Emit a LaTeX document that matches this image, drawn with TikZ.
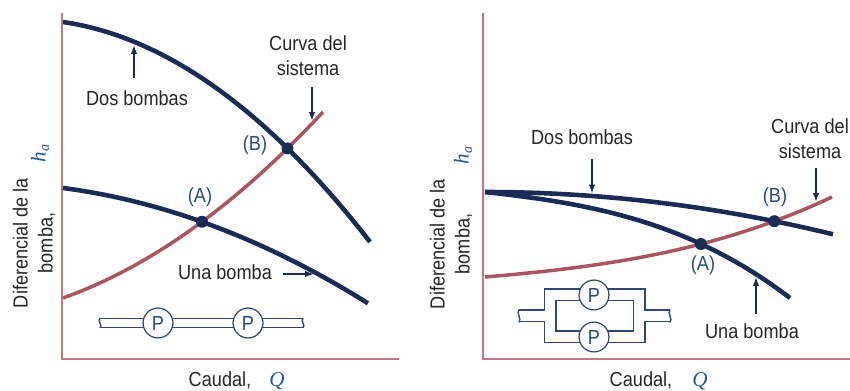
\documentclass[tikz,border=0pt]{standalone}
\usepackage{fontspec}
\setmainfont{Liberation Sans}[FakeStretch=0.89]
\newfontfamily\serifit{Liberation Serif}
\usetikzlibrary{arrows.meta}
\definecolor{navy}{RGB}{26,44,86}
\definecolor{pipeblue}{RGB}{48,70,118}
\definecolor{sysred}{RGB}{170,86,98}
\definecolor{axisred}{RGB}{194,118,130}
\definecolor{lblblue}{RGB}{42,74,128}
\definecolor{varblue}{RGB}{40,84,160}
\tikzset{
	pumpcurve/.style={line width=2.6pt, color=navy},
	syscurve/.style={line width=2pt, color=sysred},
	axisline/.style={line width=1.1pt, color=axisred},
	lbl/.style={inner sep=1pt, text=black!85},
	ptlbl/.style={inner sep=1pt, text=lblblue},
	varlbl/.style={inner sep=1pt, text=varblue, font=\fontsize{12}{14}\serifit\itshape},
	ptr/.style={line width=0.8pt, color=navy, -{Latex[length=5pt,width=3.6pt]}},
	dot/.style={fill=navy},
	pipeout/.style={line width=#1, color=pipeblue},
	pipein/.style={line width=#1, color=white},
	pipeend/.style={line width=0.8pt, color=pipeblue},
	pump/.style={circle, draw=pipeblue, fill=white, line width=0.7pt, minimum size=17pt, inner sep=0pt, text=lblblue},
}

\begin{document}
\begin{tikzpicture}[x=0.02cm, y=-0.02cm, every node/.style={font=\fontsize{11.6}{14.2}\selectfont}]
	%%%%% START %%%%%
	\useasboundingbox (0,0) rectangle (850,391);
	
	%%%%% bombas en serie %%%%%
	\draw[axisline] (62,13) -- (62,359) -- (399,359);
	
	\draw[syscurve] plot[domain=63:323, samples=50] (\x, {298 - 35.606*((\x-63)/100) - 13.827*((\x-63)/100)^2});
	\draw[pumpcurve] plot[domain=63:368, samples=50] (\x, {188 + 13.066*((\x-63)/100) + 8.1114*((\x-63)/100)^2});
	\draw[pumpcurve] plot[domain=63:370, samples=50] (\x, {22 + 14.595*((\x-63)/100) + 18.576*((\x-63)/100)^2});
	
	\coordinate (aSerie) at (202,221.8);
	\coordinate (bSerie) at (287.5,148.4);
	\fill[dot] (aSerie) circle (6);
	\fill[dot] (bSerie) circle (6);
	\node[ptlbl] (aSerieLbl) at (200,197) {(A)};
	\node[ptlbl] (bSerieLbl) at (255,145) {(B)};
	
	\node[lbl] (dosSerie) at (137,98) {Dos bombas};
	\coordinate (dosSerieTip) at (134,45);
	\draw[ptr, shorten <=6pt] (dosSerie.north -| dosSerieTip) -- (dosSerieTip);
	
	\node[lbl, align=center] (sisSerie) at (308,56) {Curva del\\sistema};
	\coordinate (sisSerieTip) at (312,121);
	\draw[ptr, shorten <=5pt] (sisSerie.south -| sisSerieTip) -- (sisSerieTip);
	
	\node[lbl] (unaSerie) at (225,272) {Una bomba};
	\coordinate (unaSerieTip) at (314,274);
	\draw[ptr, shorten <=5pt] (unaSerie.east |- unaSerieTip) -- (unaSerieTip);
	
	\draw[pipeout=5.8pt] (100,323) -- (303,323);
	\draw[pipein=4.4pt] (100,323) -- (303,323);
	\draw[pipeend] (100,318) .. controls (97,321) and (103,325) .. (100,328);
	\draw[pipeend] (303,318) .. controls (300,321) and (306,325) .. (303,328);
	\node[pump] (p1) at (158,323) {P};
	\node[pump] (p2) at (248,323) {P};
	
	\node[lbl, rotate=90, align=center] (ySerie) at (34,243) {Diferencial de la\\bomba,};
	\node[varlbl, rotate=90] (haSerie) at (40,153) {h\textsubscript{a}};
	\node[lbl, anchor=base] (xSerie) at (220,387) {Caudal,};
	\node[varlbl, anchor=base] (qSerie) at (277,387) {Q};
	
	%%%%% bombas en paralelo %%%%%
	\draw[axisline] (483,13) -- (483,359) -- (850,359);
	
	\draw[syscurve] plot[domain=485:832, samples=60] (\x, {277 - 8.431*((\x-485)/100) - 1.4476*((\x-485)/100)^2 - 0.7973*((\x-485)/100)^3});
	\draw[pumpcurve] plot[domain=485:790, samples=60] (\x, {192 + 11.021*((\x-485)/100) + 1.8246*((\x-485)/100)^2 + 1.953*((\x-485)/100)^3});
	\draw[pumpcurve] plot[domain=485:833, samples=60] (\x, {192 + 3.49*((\x-485)/100)^2});
	
	\coordinate (aPar) at (700.9,244);
	\coordinate (bPar) at (774.3,221.2);
	\fill[dot] (aPar) circle (6);
	\fill[dot] (bPar) circle (6);
	\node[ptlbl] (aParLbl) at (703,265) {(A)};
	\node[ptlbl] (bParLbl) at (775,197) {(B)};
	
	\node[lbl] (dosPar) at (582,137) {Dos bombas};
	\coordinate (dosParTip) at (592,193.5);
	\draw[ptr, shorten <=7pt] (dosPar.south -| dosParTip) -- (dosParTip);
	
	\node[lbl, align=center] (sisPar) at (810,139) {Curva del\\sistema};
	\coordinate (sisParTip) at (816,202);
	\draw[ptr, shorten <=4pt] (sisPar.south -| sisParTip) -- (sisParTip);
	
	\node[lbl] (unaPar) at (752,331) {Una bomba};
	\coordinate (unaParTip) at (756,277);
	\draw[ptr, shorten <=4pt] (unaPar.north -| unaParTip) -- (unaParTip);
	
	\draw[pipeout=7.4pt] (550,295) rectangle (639,337);
	\draw[pipeout=7.4pt] (519,316) -- (550,316);
	\draw[pipeout=7.4pt] (639,316) -- (670,316);
	\draw[pipein=6pt] (550,295) rectangle (639,337);
	\draw[pipein=6pt] (519,316) -- (550,316);
	\draw[pipein=6pt] (639,316) -- (670,316);
	\draw[pipeend] (519,309.5) .. controls (516,313) and (522,319) .. (519,322.5);
	\draw[pipeend] (670,309.5) .. controls (667,313) and (673,319) .. (670,322.5);
	\node[pump] (p3) at (594,295) {P};
	\node[pump] (p4) at (594,337) {P};
	
	\node[lbl, rotate=90, align=center] (yPar) at (451,244) {Diferencial de la\\bomba,};
	\node[varlbl, rotate=90] (haPar) at (463,155) {h\textsubscript{a}};
	\node[lbl, anchor=base] (xPar) at (641,387) {Caudal,};
	\node[varlbl, anchor=base] (qPar) at (700,387) {Q};
	
	%%%%% END %%%%%
\end{tikzpicture}
\end{document}
